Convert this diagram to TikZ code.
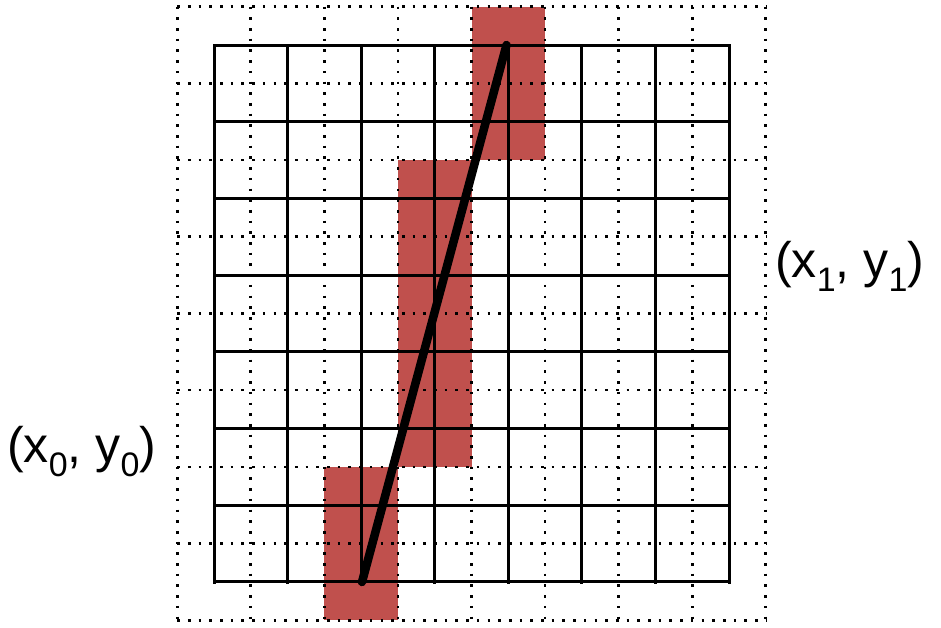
\documentclass[tikz,border=0pt]{standalone}
\usepackage{fontspec}
\setmainfont{Liberation Sans}
\definecolor{cellred}{RGB}{192,80,77}
\newcommand{\subdig}[1]{{\fontsize{34}{34}\selectfont\raisebox{-14pt}{#1}}}
\begin{document}
\begin{tikzpicture}[x=1pt,y=-1pt,
  solidgrid/.style={line width=3pt, line cap=rect},
  dotgrid/.style={line width=2.6pt, dash pattern=on 2.6pt off 8.1pt},
  pixcell/.style={fill=cellred, draw=none},
  seg/.style={line width=8.5pt, line cap=round},
  lbl/.style={font=\fontsize{50}{54}\selectfont, inner sep=0pt, anchor=base west}]
\useasboundingbox (0,0) rectangle (941,627);
% red pixel runs
\fill[pixcell] (324.3,466.9) rectangle (397.9,620.3);
\fill[pixcell] (397.9,160.0) rectangle (471.5,466.9);
\fill[pixcell] (471.5,6.6) rectangle (545.0,160.0);
% dotted pixel-centre grid
\foreach \i in {0,...,8} {
  \draw[dotgrid] ({177.2+\i*73.57},6.6) -- ({177.2+\i*73.57},620.3);
  \draw[dotgrid] (177.2,{6.6+\i*76.71}) -- (765.8,{6.6+\i*76.71});
}
% solid grid
\foreach \i in {0,...,7} {
  \draw[solidgrid] ({214+\i*73.57},45) -- ({214+\i*73.57},582);
  \draw[solidgrid] (214,{45+\i*76.71}) -- (729,{45+\i*76.71});
}
% segment
\coordinate (p0) at (362,582);
\coordinate (p1) at (506.5,45);
\draw[seg] (p0) -- (p1);
% labels
\node[lbl] (l0) at (7,462) {(x\subdig{0}, y\subdig{0})};
\node[lbl] (l1) at (775,277) {(x\subdig{1}, y\subdig{1})};
\end{tikzpicture}
\end{document}
